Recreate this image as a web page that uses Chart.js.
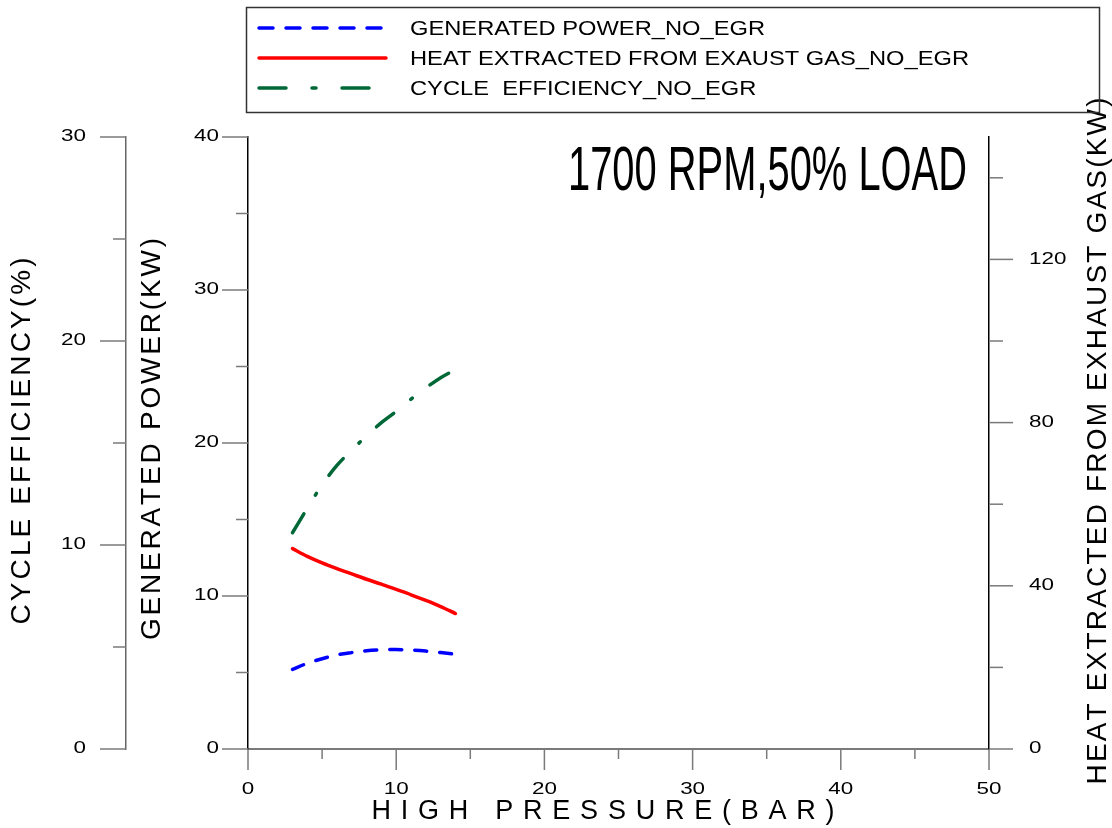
<!DOCTYPE html>
<html>
<head>
<meta charset="utf-8">
<script src="https://cdn.jsdelivr.net/npm/chart.js@4.4.0/dist/chart.umd.min.js"></script>
<style>
  html, body { margin: 0; padding: 0; background: #fff; }
  #wrap { width: 1112px; height: 828px; }
</style>
</head>
<body>
<div id="wrap"><canvas id="c" width="1112" height="828"></canvas></div>
<script>
// ---- data ----
const pressure        = [3, 4, 5, 6, 7, 8, 9, 10, 11, 12, 13, 14];
const generatedPower  = [5.2, 5.6, 5.9, 6.15, 6.3, 6.42, 6.48, 6.5, 6.47, 6.4, 6.3, 6.2];
const heatExtracted   = [49.1, 47.2, 45.6, 44.2, 42.9, 41.6, 40.4, 39.1, 37.8, 36.4, 34.9, 33.2];
const cycleEfficiency = [10.6, 11.8, 12.95, 13.9, 14.65, 15.35, 16.0, 16.55, 17.15, 17.7, 18.2, 18.6];

const seriesLabels = ['GENERATED POWER_NO_EGR', 'HEAT EXTRACTED FROM EXAUST GAS_NO_EGR', 'CYCLE  EFFICIENCY_NO_EGR'];
const xTickLabels     = [0, 10, 20, 30, 40, 50];
const powerTickLabels = [0, 10, 20, 30, 40];
const effTickLabels   = [0, 10, 20, 30];
const heatTickLabels  = [0, 40, 80, 120];

const chartTitle = '1700 RPM,50% LOAD';
const xTitle     = 'HIGH PRESSURE(BAR)';
const powerTitle = 'GENERATED POWER(KW)';
const effTitle   = 'CYCLE EFFICIENCY(%)';
const heatTitle  = 'HEAT EXTRACTED FROM EXHAUST GAS(KW)';

const pts = ys => pressure.map((x, i) => ({ x, y: ys[i] }));

// ---- drawing helpers ----
function wideText(ctx, txt, x, y, align, sx) {
    ctx.save();
    ctx.translate(x, y);
    ctx.scale(sx, 1);
    ctx.textAlign = align;
    ctx.textBaseline = 'middle';
    ctx.fillText(String(txt), 0, 0);
    ctx.restore();
}

// letters spread out so the whole string spans len px, centred on cx,cy
function spacedText(ctx, txt, cx, cy, rot, len) {
    const chars = [...txt];
    const ws = chars.map(ch => ctx.measureText(ch).width);
    const raw = ws.reduce((a, b) => a + b, 0);
    const gap = (len - raw) / (chars.length - 1);
    ctx.save();
    ctx.translate(cx, cy);
    ctx.rotate(rot);
    ctx.textAlign = 'left';
    ctx.textBaseline = 'middle';
    let x = -len / 2;
    chars.forEach((ch, i) => { ctx.fillText(ch, x, 0); x += ws[i] + gap; });
    ctx.restore();
}

function drawTicks(ctx, scale, step, majLen, minLen, dir) {
    ctx.save();
    ctx.strokeStyle = '#7a7a7a';
    ctx.lineWidth = 1.5;
    for (let v = scale.min; v <= scale.max + 1e-9; v += step / 2) {
        const major = Math.abs(v / step - Math.round(v / step)) < 1e-6;
        const len = major ? majLen : minLen;
        const p = scale.getPixelForValue(v);
        ctx.beginPath();
        if (dir === 'down')  { ctx.moveTo(p, scale.top);   ctx.lineTo(p, scale.top + len); }
        if (dir === 'left')  { ctx.moveTo(scale.right, p); ctx.lineTo(scale.right - len, p); }
        if (dir === 'right') { ctx.moveTo(scale.left, p);  ctx.lineTo(scale.left + len, p); }
        ctx.stroke();
    }
    ctx.restore();
}

const decorPlugin = {
    id: 'decor',
    afterDraw(chart) {
        const ctx = chart.ctx;
        const { x, yP, yE, yH } = chart.scales;

        // tick marks
        drawTicks(ctx, x,  10, 21, 10, 'down');
        drawTicks(ctx, yP, 10, 26, 12, 'left');
        drawTicks(ctx, yE, 10, 26, 13, 'left');
        drawTicks(ctx, yH, 40, 24, 14, 'right');

        // tick labels (wide face like the original plot)
        ctx.fillStyle = '#000';
        ctx.font = '16px Arial, "Liberation Sans", sans-serif';
        const sx = 1.4;
        xTickLabels.forEach(v => wideText(ctx, v, x.getPixelForValue(v), 790, 'center', sx));
        powerTickLabels.forEach(v => wideText(ctx, v, 219, yP.getPixelForValue(v), 'right', sx));
        effTickLabels.forEach(v => wideText(ctx, v, 86, yE.getPixelForValue(v), 'right', sx));
        heatTickLabels.forEach(v => wideText(ctx, v, 1029, yH.getPixelForValue(v), 'left', sx));

        // axis titles
        ctx.font = '28px Arial, "Liberation Sans", sans-serif';
        spacedText(ctx, effTitle,   22,   441, -Math.PI / 2, 367);
        spacedText(ctx, powerTitle, 152,  439, -Math.PI / 2, 402);
        spacedText(ctx, heatTitle,  1098, 441, -Math.PI / 2, 687);
        ctx.font = '27px Arial, "Liberation Sans", sans-serif';
        spacedText(ctx, xTitle, 603, 812, 0, 463);

        // condensed title in the plot
        ctx.save();
        ctx.font = '63px Arial, "Liberation Sans", sans-serif';
        const tw = ctx.measureText(chartTitle).width;
        ctx.translate(568, 190);
        ctx.scale(399 / tw, 1);
        ctx.textAlign = 'left';
        ctx.textBaseline = 'alphabetic';
        ctx.fillText(chartTitle, 0, 0);
        ctx.restore();

        // framed legend
        ctx.save();
        ctx.strokeStyle = '#333';
        ctx.lineWidth = 1.5;
        ctx.strokeRect(246.5, 7.5, 853, 105);
        ctx.font = '21px Arial, "Liberation Sans", sans-serif';
        const lsx = 355 / ctx.measureText(seriesLabels[0]).width;
        chart.data.datasets.forEach((ds, i) => {
            const y = 28 + 30 * i;
            ctx.beginPath();
            ctx.strokeStyle = ds.borderColor;
            ctx.lineWidth = ds.borderWidth;
            ctx.lineCap = ds.borderCapStyle || 'butt';
            ctx.setLineDash(ds.legendDash || []);
            ctx.moveTo(259, y);
            ctx.lineTo(386, y);
            ctx.stroke();
            ctx.setLineDash([]);
            ctx.fillStyle = '#000';
            wideText(ctx, seriesLabels[i], 410, y + 1, 'left', lsx);
        });
        ctx.restore();
    }
};

const fixW = w => scale => { scale.width = w; };
const fixH = h => scale => { scale.height = h; };

new Chart(document.getElementById('c'), {
    type: 'line',
    data: {
        datasets: [
            { label: seriesLabels[0], data: pts(generatedPower), yAxisID: 'yP',
              borderColor: '#0000ff', borderWidth: 3.5, borderDash: [12, 13], legendDash: [14, 13],
              borderCapStyle: 'round' },
            { label: seriesLabels[1], data: pts(heatExtracted), yAxisID: 'yH',
              borderColor: '#ff0000', borderWidth: 3.5, borderCapStyle: 'round' },
            { label: seriesLabels[2], data: pts(cycleEfficiency), yAxisID: 'yE',
              borderColor: '#006837', borderWidth: 3.5, borderDash: [22, 22, 2, 22], legendDash: [27, 26, 4, 26],
              borderCapStyle: 'round' },
        ]
    },
    options: {
        responsive: false,
        animation: false,
        devicePixelRatio: 1,
        layout: { padding: { top: 137, left: 0, right: 0, bottom: 0 } },
        elements: { point: { radius: 0 }, line: { tension: 0.4, cubicInterpolationMode: 'monotone' } },
        plugins: { legend: { display: false }, tooltip: { enabled: false } },
        scales: {
            x: {
                type: 'linear', position: 'bottom', min: 0, max: 50,
                ticks: { display: false, stepSize: 10 },
                grid: { display: false },
                border: { display: true, color: '#7a7a7a', width: 2 },
                afterFit: fixH(79),
            },
            yP: {
                type: 'linear', position: 'left', min: 0, max: 40,
                ticks: { display: false, stepSize: 10 },
                grid: { display: false },
                border: { display: true, color: '#000', width: 1.5 },
                afterFit: fixW(122),
            },
            yE: {
                type: 'linear', position: 'left', min: 0, max: 30,
                ticks: { display: false, stepSize: 10 },
                grid: { display: false },
                border: { display: true, color: '#666', width: 1.5 },
                afterFit: fixW(126),
            },
            yH: {
                type: 'linear', position: 'right', min: 0, max: 150,
                ticks: { display: false, stepSize: 40 },
                grid: { display: false },
                border: { display: true, color: '#000', width: 1.5 },
                afterFit: fixW(123),
            },
        },
    },
    plugins: [decorPlugin],
});
</script>
</body>
</html>
